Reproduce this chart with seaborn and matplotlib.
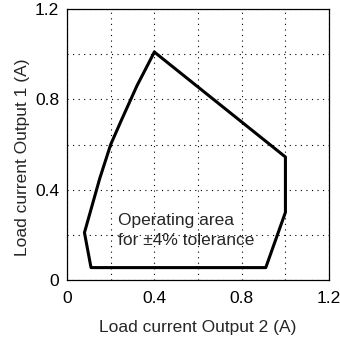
import matplotlib
matplotlib.use("Agg")
import matplotlib.pyplot as plt
import seaborn as sns
import pandas as pd
from matplotlib.ticker import MultipleLocator

# outline of the operating area (Output 2 current, Output 1 current)
out2_current = [0.40, 1.00, 1.00, 0.91, 0.11, 0.08, 0.15, 0.20, 0.25, 0.32, 0.40]
out1_current = [1.01, 0.545, 0.30, 0.055, 0.055, 0.21, 0.45, 0.60, 0.71, 0.86, 1.01]
tick_vals = [0, 0.4, 0.8, 1.2]
tick_labels = ["0", "0.4", "0.8", "1.2"]

df = pd.DataFrame({"out2": out2_current, "out1": out1_current})

sns.set_style("white")
plt.rcParams["font.family"] = ["Liberation Sans", "DejaVu Sans"]

fig = plt.figure(figsize=(3.4, 3.39), dpi=100)
ax = fig.add_axes([0.197, 0.174, 0.771, 0.799])

sns.lineplot(data=df, x="out2", y="out1", sort=False, estimator=None,
             color="black", linewidth=2.2, ax=ax)

ax.set_xlim(0, 1.2)
ax.set_ylim(0, 1.2)
ax.set_xticks(tick_vals)
ax.set_xticklabels(tick_labels)
ax.set_yticks(tick_vals)
ax.set_yticklabels(tick_labels)
ax.xaxis.set_minor_locator(MultipleLocator(0.2))
ax.yaxis.set_minor_locator(MultipleLocator(0.2))
ax.grid(True, which="both", color="black", linestyle=(0, (1, 4)), linewidth=0.8)
ax.tick_params(which="both", length=0, labelsize=12.5, colors="black")
ax.tick_params(axis="x", pad=8)
ax.tick_params(axis="y", pad=5.5)
for s in ax.spines.values():
    s.set_color("black")
    s.set_linewidth(0.9)

ax.set_xlabel("Load current Output 2 (A)", fontsize=12.5, labelpad=10)
ax.set_ylabel("Load current Output 1 (A)", fontsize=12.5)
ax.yaxis.set_label_coords(-0.14, 0.455)

ax.text(0.234, 0.265, "Operating area", fontsize=12.5, va="center", ha="left")
ax.text(0.234, 0.177, "for \u00b14% tolerance", fontsize=12.5, va="center", ha="left")

fig.savefig("out.png", dpi=100)
